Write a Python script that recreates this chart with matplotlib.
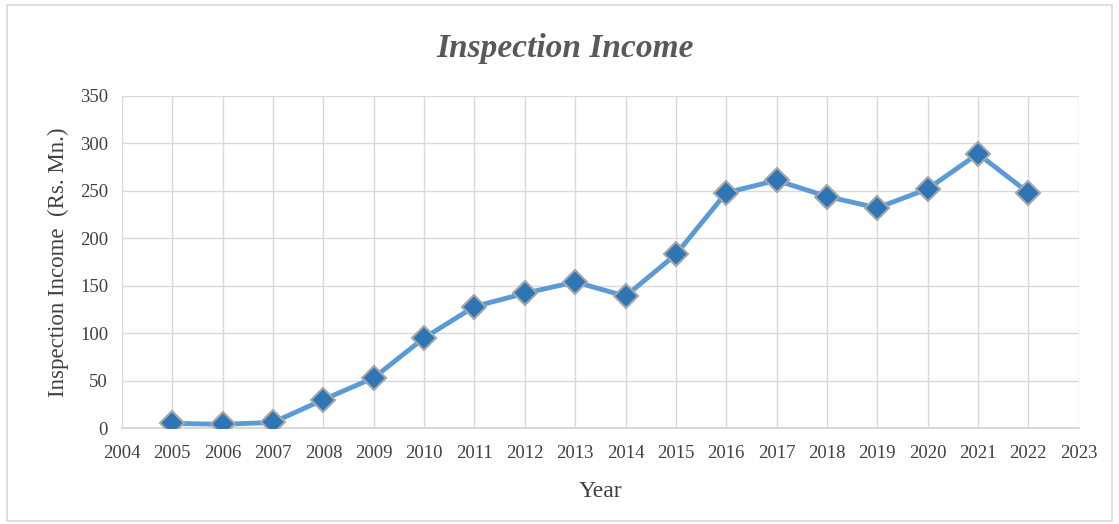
import matplotlib
matplotlib.use("Agg")
import matplotlib.pyplot as plt
from matplotlib.patches import Rectangle

years = [2005, 2006, 2007, 2008, 2009, 2010, 2011, 2012, 2013, 2014,
         2015, 2016, 2017, 2018, 2019, 2020, 2021, 2022]
income = [5, 4, 6, 30, 53, 95, 128, 142, 154, 139,
          183, 248, 261, 244, 232, 252, 289, 248]
xticks = list(range(2004, 2024))
yticks = [0, 50, 100, 150, 200, 250, 300, 350]

plt.rcParams['font.family'] = ['Liberation Serif', 'DejaVu Serif']

fig = plt.figure(figsize=(11.19, 5.24), dpi=100)
fig.patches.append(Rectangle((0.006, 0.006), 0.988, 0.985, transform=fig.transFigure,
                             fill=False, edgecolor='#d9d9d9', linewidth=1.2))
ax = fig.add_axes([0.109, 0.183, 0.855, 0.634])

ax.plot(years, income, color='#5B9BD5', linewidth=3.5, marker='D', markersize=12,
        markerfacecolor='#2E75B6', markeredgecolor='#A6A6A6', markeredgewidth=1.5, zorder=3)

ax.set_xlim(2004, 2023)
ax.set_ylim(0, 350)
ax.set_xticks(xticks)
ax.set_yticks(yticks)
ax.grid(True, color='#d9d9d9', linewidth=1)
ax.tick_params(axis='x', length=0, labelsize=13.5, colors='#404040', pad=12)
ax.tick_params(axis='y', length=0, labelsize=13.5, colors='#404040', pad=10)
for s in ['top', 'right', 'left']:
    ax.spines[s].set_visible(False)
ax.spines['bottom'].set_color('#d0d0d0')
ax.spines['bottom'].set_linewidth(1.2)

ax.set_xlabel('Year', fontsize=17, color='#404040', labelpad=14)
ax.set_ylabel('Inspection Income  (Rs. Mn.)', fontsize=16.5, color='#404040', labelpad=8)
fig.text(0.505, 0.908, 'Inspection Income', ha='center', va='center', fontsize=24,
         fontweight='bold', fontstyle='italic', color='#595959')

fig.savefig('out.png', dpi=100)
